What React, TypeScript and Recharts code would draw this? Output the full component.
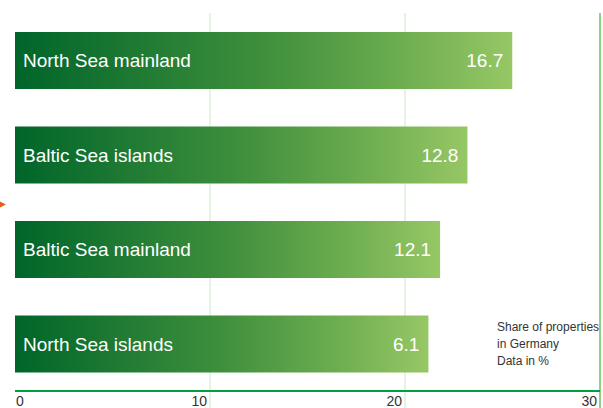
import { BarChart, Bar, XAxis, YAxis, CartesianGrid, LabelList } from 'recharts';

const regions = ['North Sea mainland', 'Baltic Sea islands', 'Baltic Sea mainland', 'North Sea islands'];
// printed shares
const shares = ['16.7', '12.8', '12.1', '6.1'];
// bar extents as drawn in the picture (axis units)
const barExtents = [25.5, 23.2, 21.8, 21.2];
const xTicks = [0, 10, 20, 30];
const noteLines = ['Share of properties', 'in Germany', 'Data in %'];

const data = regions.map((name, i) => ({ name, extent: barExtents[i], share: shares[i] }));

const FONT = '"Liberation Sans", Arial, Helvetica, sans-serif';

function GridLine(props: any) {
  const { x1, y1, x2, y2, index } = props;
  if (index === 0) return <g key={props.key} />;
  const last = index === xTicks.length - 1;
  return (
    <line
      key={props.key}
      x1={x1}
      x2={x2}
      y1={y1}
      y2={y2 + 17}
      stroke={last ? '#8fd18a' : '#d6ead2'}
      strokeWidth={last ? 2 : 1.2}
    />
  );
}

function Tick(props: any) {
  const { x, payload, index } = props;
  const first = index === 0;
  return (
    <text
      x={first ? x + 1 : x - 3}
      y={406}
      textAnchor={first ? 'start' : 'end'}
      fill="#333"
      fontSize={14}
      fontFamily={FONT}
    >
      {payload.value}
    </text>
  );
}

export default function App() {
  return (
    <div style={{ position: 'absolute', left: 0, top: 0, width: 603, height: 408, background: '#fff' }}>
      <BarChart
        width={603}
        height={408}
        data={data}
        layout="vertical"
        margin={{ top: 13, right: 3, bottom: 0, left: 15 }}
        barCategoryGap="20%"
      >
        <defs>
          <linearGradient id="barFill" x1="0" y1="0" x2="1" y2="0">
            <stop offset="0%" stopColor="#00652a" />
            <stop offset="25%" stopColor="#1f7a33" />
            <stop offset="50%" stopColor="#3f8f3c" />
            <stop offset="75%" stopColor="#68aa4e" />
            <stop offset="100%" stopColor="#97c765" />
          </linearGradient>
        </defs>
        <CartesianGrid horizontal={false} vertical={GridLine} />
        <XAxis
          type="number"
          domain={[0, 30]}
          ticks={xTicks}
          height={17}
          axisLine={{ stroke: '#00a040', strokeWidth: 2 }}
          tickLine={false}
          tick={Tick}
          interval={0}
        />
        <YAxis type="category" dataKey="name" hide />
        <Bar dataKey="extent" fill="url(#barFill)" isAnimationActive={false}>
          <LabelList
            dataKey="name"
            position="insideLeft"
            offset={8}
            fill="#fff"
            fontSize={19}
            fontFamily={FONT}
          />
          <LabelList
            dataKey="share"
            position="insideRight"
            offset={9}
            fill="#fff"
            fontSize={19}
            fontFamily={FONT}
          />
        </Bar>
      </BarChart>
      <svg style={{ position: 'absolute', left: 0, top: 200 }} width={8} height={10}>
        <polygon points="0,1.5 6,4.5 0,7.5" fill="#e4601c" />
      </svg>
      <div
        style={{
          position: 'absolute',
          left: 497,
          top: 319,
          fontFamily: FONT,
          fontSize: 12,
          lineHeight: '17px',
          color: '#333',
          whiteSpace: 'nowrap',
        }}
      >
        {noteLines.map((l) => (
          <div key={l}>{l}</div>
        ))}
      </div>
    </div>
  );
}
